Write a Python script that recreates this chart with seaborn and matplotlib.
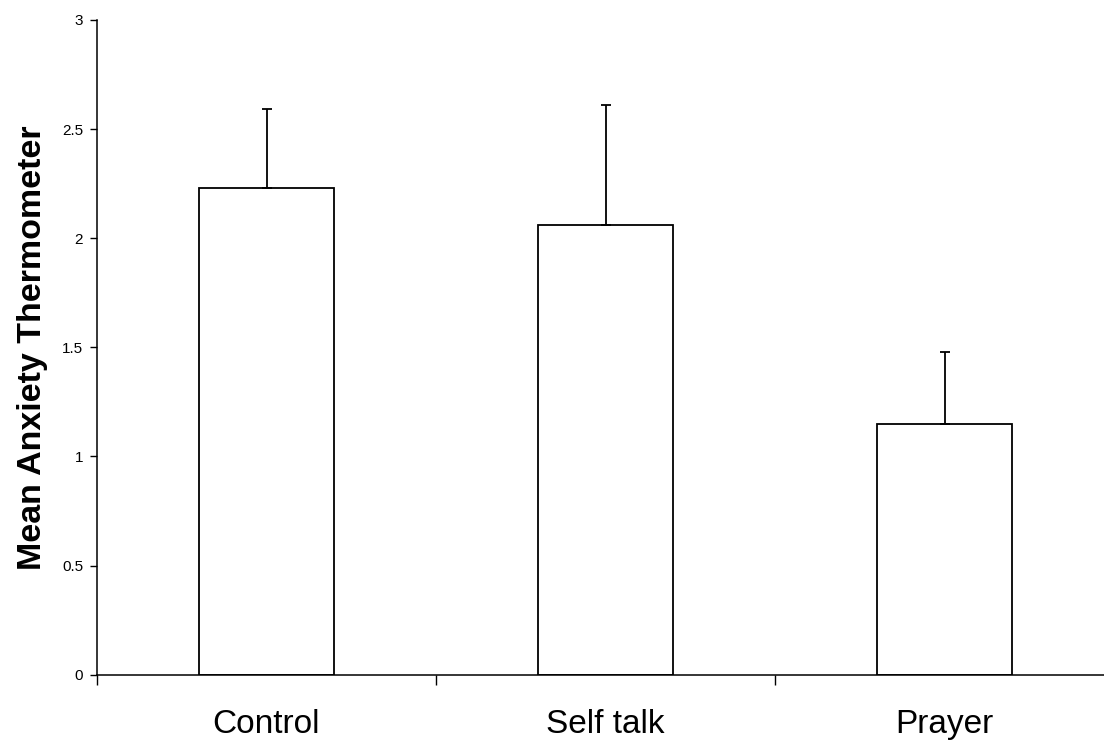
import matplotlib
matplotlib.use("Agg")
import matplotlib.pyplot as plt
import seaborn as sns
import numpy as np
import pandas as pd

# Group means and upper error (SE) for the anxiety thermometer
groups = ["Control", "Self talk", "Prayer"]
means = [2.23, 2.06, 1.15]
errors = [0.36, 0.55, 0.33]
y_ticks = [0, 0.5, 1, 1.5, 2, 2.5, 3]
y_tick_labels = ["0", "0.5", "1", "1.5", "2", "2.5", "3"]

sns.set_theme(style="white")
plt.rcParams["font.family"] = ["Liberation Sans", "DejaVu Sans"]
plt.rcParams["text.color"] = "black"
plt.rcParams["axes.labelcolor"] = "black"
plt.rcParams["xtick.color"] = "black"
plt.rcParams["ytick.color"] = "black"

df = pd.DataFrame({"group": groups, "mean": means})

fig = plt.figure(figsize=(11.04, 7.42), dpi=100)
ax = fig.add_axes([97 / 1104, 1 - 674.7 / 742, 1017 / 1104, (674.7 - 20) / 742])

sns.barplot(data=df, x="group", y="mean", order=groups, color="white",
            edgecolor="black", linewidth=1.3, width=0.4, errorbar=None, ax=ax)

# one-sided (upward) error bars
x_pos = np.arange(len(groups))
ax.errorbar(x_pos, means, yerr=[np.zeros(len(errors)), errors], fmt="none",
            ecolor="black", elinewidth=1.3, capsize=3.6, capthick=1.3)

ax.set_xlim(-0.5, 2.5)
ax.set_ylim(0, 3)
ax.set_yticks(y_ticks)
ax.set_yticklabels(y_tick_labels, fontsize=11)

ax.set_xticks(x_pos)
ax.set_xticklabels(groups, fontsize=24, color="black")
ax.set_xticks([-0.5, 0.5, 1.5, 2.5], minor=True)
ax.tick_params(axis="x", which="major", length=0, pad=24.5)
ax.tick_params(axis="x", which="minor", direction="out", length=7.5,
               width=1, color="black", bottom=True)
ax.tick_params(axis="y", direction="out", length=5, width=1, color="black",
               labelcolor="black", left=True, pad=5)

ax.set_xlabel("")
ax.set_ylabel("Mean Anxiety Thermometer", fontsize=24.5, fontweight="bold",
              color="black", labelpad=10)

for side in ["top", "right"]:
    ax.spines[side].set_visible(False)
for side in ["left", "bottom"]:
    ax.spines[side].set_color("black")
    ax.spines[side].set_linewidth(1.1)

fig.savefig("out.png", dpi=100)
